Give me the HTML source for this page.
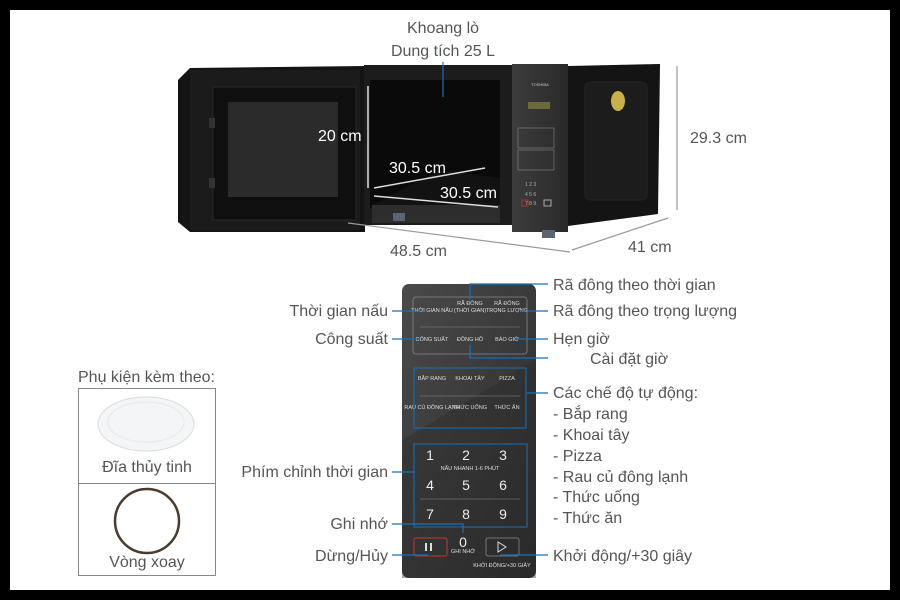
<!DOCTYPE html>
<html><head><meta charset="utf-8"><style>
html,body{margin:0;padding:0;background:#000;}
svg{display:block;}
text{font-family:"Liberation Sans",sans-serif;}
</style></head><body>
<svg width="900" height="600" viewBox="0 0 900 600" xmlns="http://www.w3.org/2000/svg">
<defs>
<linearGradient id="pan" x1="0" y1="0" x2="1" y2="1"><stop offset="0" stop-color="#4a4a4a"/><stop offset="0.5" stop-color="#3a3a3a"/><stop offset="1" stop-color="#2a2a2a"/></linearGradient>
<linearGradient id="cp" x1="0" y1="0" x2="1" y2="0"><stop offset="0" stop-color="#3c3c3c"/><stop offset="1" stop-color="#2a2a2a"/></linearGradient>
</defs>
<rect x="10" y="10" width="880" height="580" fill="#fff"/>

<!-- microwave door -->
<polygon points="178,80 190,68 365,66 365,232 190,232 178,222" fill="#141414"/>
<rect x="190" y="70" width="170" height="160" fill="#1b1b1b"/>
<rect x="213" y="87" width="143" height="133" fill="#0f0f0f" stroke="#2a2a2a"/>
<rect x="228" y="102" width="110" height="95" fill="#2b2b2b"/>
<rect x="209" y="118" width="6" height="10" fill="#333"/>
<rect x="209" y="178" width="6" height="10" fill="#333"/>
<!-- body front -->
<rect x="364" y="65" width="148" height="160" fill="#1c1c1c"/>
<rect x="370" y="80" width="130" height="128" fill="#0a0a0a"/>
<polygon points="372,205 500,212 500,178 440,170" fill="#121212"/>
<rect x="372" y="205" width="128" height="18" fill="#2d2d2d"/>
<!-- control panel -->
<rect x="512" y="64" width="56" height="168" fill="url(#cp)"/>
<text x="540" y="86" font-size="4" fill="#ccc" text-anchor="middle">TOSHIBA</text>
<rect x="528" y="102" width="22" height="7" fill="#6b6b3a"/>
<g fill="none" stroke="#888" stroke-width="0.6"><rect x="518" y="128" width="36" height="20"/><rect x="518" y="150" width="36" height="20"/></g>
<g fill="#aaa" font-size="5"><text x="525" y="186">1 2 3</text><text x="525" y="196">4 5 6</text><text x="525" y="205">7 8 9</text></g>
<rect x="522" y="200" width="6" height="6" fill="none" stroke="#a33"/>
<rect x="544" y="200" width="7" height="6" fill="none" stroke="#aaa"/>
<!-- side -->
<polygon points="568,66 660,64 658,214 568,226" fill="#141414"/>
<rect x="585" y="82" width="62" height="118" rx="6" fill="#1c1c1c" stroke="#262626"/>
<ellipse cx="618" cy="101" rx="7" ry="10" fill="#c8b04a"/>
<!-- feet -->
<rect x="393" y="213" width="12" height="8" fill="#5a6570"/>
<rect x="542" y="230" width="13" height="8" fill="#5a6570"/>

<!-- inner dimension arrows -->
<g stroke="#ddd" stroke-width="1.5" fill="#ddd">
<line x1="368" y1="86" x2="368" y2="188"/>
<line x1="374" y1="188" x2="485" y2="168"/>
<line x1="374" y1="196" x2="498" y2="207"/>
</g>
<line x1="443" y1="62" x2="443" y2="97" stroke="#1a6fb5" stroke-width="1.2"/>
<g fill="#fff" font-size="16"><text x="318" y="141">20 cm</text><text x="389" y="173">30.5 cm</text><text x="440" y="198">30.5 cm</text></g>

<!-- outer dims -->
<g stroke="#999" stroke-width="1.2">
<line x1="348" y1="223" x2="570" y2="252"/>
<line x1="572" y1="250" x2="668" y2="218"/>
<line x1="677" y1="66" x2="677" y2="210"/>
</g>
<g fill="#555" font-size="16">
<text x="443" y="33" text-anchor="middle">Khoang lò</text>
<text x="443" y="56" text-anchor="middle">Dung tích 25 L</text>
<text x="690" y="143">29.3 cm</text>
<text x="390" y="256">48.5 cm</text>
<text x="628" y="252">41 cm</text>
</g>

<!-- keypad panel -->
<rect x="402" y="284" width="134" height="294" rx="7" fill="url(#pan)"/>
<polygon points="402,440 536,360 536,578 402,578" fill="#2b2b2b" opacity="0.4"/>
<g fill="none" stroke="#888" stroke-width="0.8">
<rect x="413" y="297" width="114" height="57" rx="3"/>
<rect x="486" y="538" width="33" height="18" rx="2"/>
</g>
<rect x="414" y="538" width="33" height="18" rx="2" fill="none" stroke="#c0392b"/>
<g stroke="#888" stroke-width="0.6"><line x1="420" y1="327" x2="520" y2="327"/><line x1="420" y1="396" x2="520" y2="396"/><line x1="420" y1="499" x2="520" y2="499"/></g>
<g fill="#ddd" font-size="5.5" text-anchor="middle">
<text x="432" y="312">THỜI GIAN NẤU</text><text x="470" y="305">RÃ ĐÔNG</text><text x="470" y="312">(THỜI GIAN)</text><text x="507" y="305">RÃ ĐÔNG</text><text x="507" y="312">TRỌNG LƯỢNG</text>
<text x="432" y="341">CÔNG SUẤT</text><text x="470" y="341">ĐỒNG HỒ</text><text x="507" y="341">BÁO GIỜ</text>
<text x="432" y="380">BẮP RANG</text><text x="470" y="380">KHOAI TÂY</text><text x="507" y="380">PIZZA</text>
<text x="432" y="409">RAU CỦ ĐÔNG LẠNH</text><text x="470" y="409">THỨC UỐNG</text><text x="507" y="409">THỨC ĂN</text>
<text x="470" y="470">NẤU NHANH 1-6 PHÚT</text>
<text x="463" y="553">GHI NHỚ</text><text x="502" y="567">KHỞI ĐỘNG/+30 GIÂY</text>
</g>
<g fill="#eee" font-size="14" text-anchor="middle">
<text x="430" y="460">1</text><text x="466" y="460">2</text><text x="503" y="460">3</text>
<text x="430" y="490">4</text><text x="466" y="490">5</text><text x="503" y="490">6</text>
<text x="430" y="519">7</text><text x="466" y="519">8</text><text x="503" y="519">9</text>
<text x="463" y="547">0</text>
</g>
<rect x="414" y="444" width="113" height="83" fill="none" stroke="#1a6fb5" stroke-width="1"/>
<rect x="414" y="368" width="112" height="60" fill="none" stroke="#1a6fb5" stroke-width="1"/>
<rect x="425" y="543" width="2" height="8" fill="#ddd"/><rect x="430" y="543" width="2" height="8" fill="#ddd"/>
<polygon points="498,542 498,552 506,547" fill="none" stroke="#ddd"/>

<!-- connectors -->
<g stroke="#1a6fb5" stroke-width="1.2" fill="none">
<polyline points="548,284 470,284 470,300"/>
<line x1="548" y1="311" x2="520" y2="311"/>
<line x1="548" y1="339" x2="515" y2="339"/>
<polyline points="548,358 470,358 470,345"/>
<line x1="548" y1="393" x2="527" y2="393"/>
<line x1="392" y1="311" x2="420" y2="311"/>
<line x1="392" y1="339" x2="420" y2="339"/>
<line x1="392" y1="472" x2="414" y2="472"/>
<polyline points="392,524 463,524 463,533"/>
<line x1="392" y1="555" x2="428" y2="555"/>
<line x1="548" y1="555" x2="500" y2="555"/>
</g>
<g fill="#555" font-size="16">
<text x="553" y="290">Rã đông theo thời gian</text>
<text x="553" y="316">Rã đông theo trọng lượng</text>
<text x="553" y="344">Hẹn giờ</text>
<text x="590" y="364">Cài đặt giờ</text>
<text x="553" y="398">Các chế độ tự động:</text>
<text x="553" y="419">- Bắp rang</text>
<text x="553" y="440">- Khoai tây</text>
<text x="553" y="461">- Pizza</text>
<text x="553" y="482">- Rau củ đông lạnh</text>
<text x="553" y="502">- Thức uống</text>
<text x="553" y="523">- Thức ăn</text>
<text x="553" y="561">Khởi động/+30 giây</text>
<text x="388" y="316" text-anchor="end">Thời gian nấu</text>
<text x="388" y="344" text-anchor="end">Công suất</text>
<text x="388" y="477" text-anchor="end">Phím chỉnh thời gian</text>
<text x="388" y="529" text-anchor="end">Ghi nhớ</text>
<text x="388" y="561" text-anchor="end">Dừng/Hủy</text>
<text x="78" y="382">Phụ kiện kèm theo:</text>
<text x="147" y="472" text-anchor="middle">Đĩa thủy tinh</text>
<text x="147" y="567" text-anchor="middle">Vòng xoay</text>
</g>
<g fill="none" stroke="#888" stroke-width="1">
<rect x="78.5" y="388.5" width="137" height="187"/>
<line x1="78" y1="483.5" x2="216" y2="483.5"/>
</g>
<ellipse cx="146" cy="424" rx="48" ry="27" fill="#f3f5f6" stroke="#d8dcde"/>
<ellipse cx="146" cy="422" rx="38" ry="20" fill="none" stroke="#e6e8ea"/>
<circle cx="147" cy="521" r="32" fill="none" stroke="#4a3b2e" stroke-width="2.5"/>
</svg>
</body></html>
